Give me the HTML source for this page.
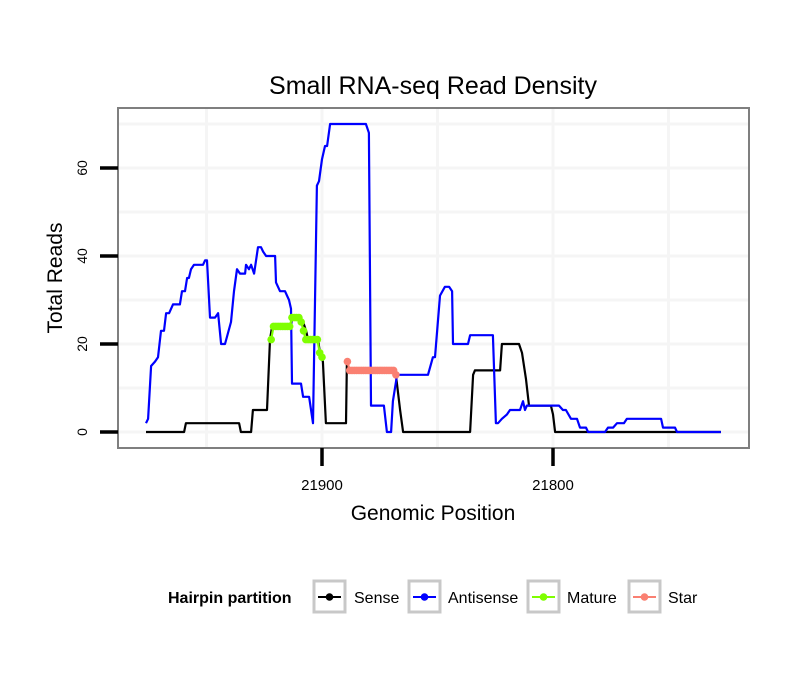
<!DOCTYPE html>
<html><head><meta charset="utf-8"><style>
body{margin:0;background:#fff;}
svg text{font-family:"Liberation Sans",sans-serif;}
</style></head><body>
<svg id="chart" width="810" height="690" xmlns="http://www.w3.org/2000/svg">
<rect width="810" height="690" fill="#fff"/>
<text x="433" y="94" font-size="25" text-anchor="middle">Small RNA-seq Read Density</text>
<g id="grid"></g>
<g id="series"></g>
<rect x="118" y="108" width="631" height="340" fill="none" stroke="#7f7f7f" stroke-width="2"/>
<g id="axes"></g>
<text x="433" y="520" font-size="21" text-anchor="middle">Genomic Position</text>
<text transform="translate(62,278) rotate(-90)" font-size="21" text-anchor="middle">Total Reads</text>
<g>
<text x="168" y="603" font-size="16" font-weight="bold">Hairpin partition</text>
<g><rect x="314" y="581" width="31" height="31" fill="#fff" stroke="#c8c8c8" stroke-width="3"/><line x1="318" y1="597" x2="341" y2="597" stroke="#000" stroke-width="2"/><circle cx="329.5" cy="597" r="3.8" fill="#000"/><text x="354" y="603" font-size="16">Sense</text></g>
<g><rect x="409" y="581" width="31" height="31" fill="#fff" stroke="#c8c8c8" stroke-width="3"/><line x1="413" y1="597" x2="436" y2="597" stroke="#0000ff" stroke-width="2"/><circle cx="424.5" cy="597" r="3.8" fill="#0000ff"/><text x="448" y="603" font-size="16">Antisense</text></g>
<g><rect x="528" y="581" width="31" height="31" fill="#fff" stroke="#c8c8c8" stroke-width="3"/><line x1="532" y1="597" x2="555" y2="597" stroke="#7fff00" stroke-width="2"/><circle cx="543.5" cy="597" r="3.8" fill="#7fff00"/><text x="567" y="603" font-size="16">Mature</text></g>
<g><rect x="629" y="581" width="31" height="31" fill="#fff" stroke="#c8c8c8" stroke-width="3"/><line x1="633" y1="597" x2="656" y2="597" stroke="#fa8072" stroke-width="2"/><circle cx="644.5" cy="597" r="3.8" fill="#fa8072"/><text x="668" y="603" font-size="16">Star</text></g>
</g>
</svg>
<script>
const yTicks=[0,20,40,60];
const yMinor=[10,30,50,70];
const xTicks=[21900,21800];
const xMinor=[21950,21850,21750];
const senseX=[21976.2,21959.7,21958.9,21935.9,21935.1,21930.7,21929.9,21923.8,21922.5,21921.6,21913.4,21913,21909.5,21908.2,21906.9,21906,21901.7,21900.9,21899.6,21898.3,21889.6,21889.2,21888.3,21868.8,21868,21866.2,21864.9,21835.9,21834.6,21833.8,21822.9,21822.1,21814.7,21813.4,21811.7,21810.4,21800.9,21800,21799.1,21727.3];
const senseY=[0,0,2,2,0,0,5,5,21,24,24,26,26,25,23,21,21,18,16,2,2,16,14,14,13,5,0,0,13,14,14,20,20,18,12,6,6,4,0,0];
const antiX=[21976.2,21975.3,21974,21972.3,21971,21969.7,21968.4,21967.5,21966.2,21964.5,21961.5,21960.6,21959.3,21958.4,21957.6,21956.7,21955.4,21951.5,21950.6,21949.8,21948.5,21946.3,21945,21943.7,21942,21939.4,21938.1,21936.8,21935.5,21933.3,21932.9,21931.6,21930.7,21929.4,21927.7,21926.4,21925.5,21924.2,21920.3,21919.9,21918.2,21916,21914.3,21913.4,21913,21909.1,21908.2,21905.6,21903.9,21902.2,21901.3,21900,21898.7,21897.8,21896.5,21881,21879.7,21878.8,21873.2,21871.9,21870.1,21869.3,21867.5,21854.1,21852,21851.1,21848.9,21846.8,21845,21843.7,21843.3,21836.8,21835.9,21826,21824.7,21823.8,21822.1,21819.9,21818.6,21814.3,21813,21812.1,21811.3,21797.4,21795.7,21794.4,21792.2,21789.6,21788.3,21785.7,21784.8,21777.5,21776.2,21774,21772.3,21769.3,21768,21753.2,21752.4,21747.2,21746.3,21727.3];
const antiY=[2,3,15,16,17,23,23,27,27,29,29,32,32,35,35,37,38,38,39,39,26,26,27,20,20,25,32,37,36,36,38,37,38,36,42,42,41,40,40,34,32,32,30,28,11,11,8,8,2,56,57,62,65,65,70,70,68,6,6,0,0,7,13,13,17,17,31,33,33,32,20,20,22,22,2,2,3,4,5,5,7,5,6,6,5,5,3,3,1,1,0,0,1,1,2,2,3,3,1,1,0,0];
const matureX=[21922,21921,21920,21919,21918,21917,21916,21915,21914,21913,21912,21911,21910,21909,21908,21907,21906,21905,21904,21903,21902,21901,21900];
const matureY=[21,24,24,24,24,24,24,24,24,26,26,26,26,25,23,21,21,21,21,21,21,18,17];
const starX=[21889,21888,21887,21886,21885,21884,21883,21882,21881,21880,21879,21878,21877,21876,21875,21874,21873,21872,21871,21870,21869,21868];
const starY=[16,14,14,14,14,14,14,14,14,14,14,14,14,14,14,14,14,14,14,14,14,13];

const NS="http://www.w3.org/2000/svg";
function xs(p){return 322-(p-21900)*2.31;}
function ys(v){return 432-v*4.4;}
function mk(tag,attrs,parent){const e=document.createElementNS(NS,tag);for(const k in attrs)e.setAttribute(k,attrs[k]);parent.appendChild(e);return e;}
const grid=document.getElementById('grid'),ser=document.getElementById('series'),axes=document.getElementById('axes');
mk('rect',{x:118,y:108,width:631,height:340,fill:'#fff'},grid);
yMinor.concat(yTicks).forEach(v=>{const l=mk('line',{x1:118,x2:749,y1:ys(v),y2:ys(v),stroke:'#f5f5f5','stroke-width':3},grid);

});
xMinor.concat(xTicks).forEach(v=>{const l=mk('line',{x1:xs(v),x2:xs(v),y1:108,y2:448,stroke:'#f5f5f5','stroke-width':3},grid);

});
function line(X,Y,color,name){const d=X.map((x,i)=>(i?'L':'M')+xs(x).toFixed(1)+','+ys(Y[i]).toFixed(1)).join('');
const p=mk('path',{d:d,fill:'none',stroke:color,'stroke-width':2.2,'stroke-linejoin':'round'},ser);

}
line(senseX,senseY,'#000','sense-line');
line(antiX,antiY,'#0000ff','antisense-line');
function pts(X,Y,color,name){X.forEach((x,i)=>{const c=mk('circle',{cx:xs(x),cy:ys(Y[i]),r:3.8,fill:color},ser);

});}
line(matureX,matureY,'#7fff00','mature-line');
pts(matureX,matureY,'#7fff00','mature-point');
line(starX,starY,'#fa8072','star-line');
pts(starX,starY,'#fa8072','star-point');
yTicks.forEach(v=>{const t=mk('line',{x1:100,x2:118,y1:ys(v),y2:ys(v),stroke:'#000','stroke-width':3.5},axes);


const tx=mk('text',{transform:'translate(87,'+ys(v)+') rotate(-90)','font-size':14,'text-anchor':'middle'},axes);tx.textContent=v;

});
xTicks.forEach(v=>{const t=mk('line',{x1:xs(v),x2:xs(v),y1:448,y2:466,stroke:'#000','stroke-width':3.5},axes);


const tx=mk('text',{x:xs(v),y:490,'font-size':15,'text-anchor':'middle'},axes);tx.textContent=v;

});
</script>
</body></html>
